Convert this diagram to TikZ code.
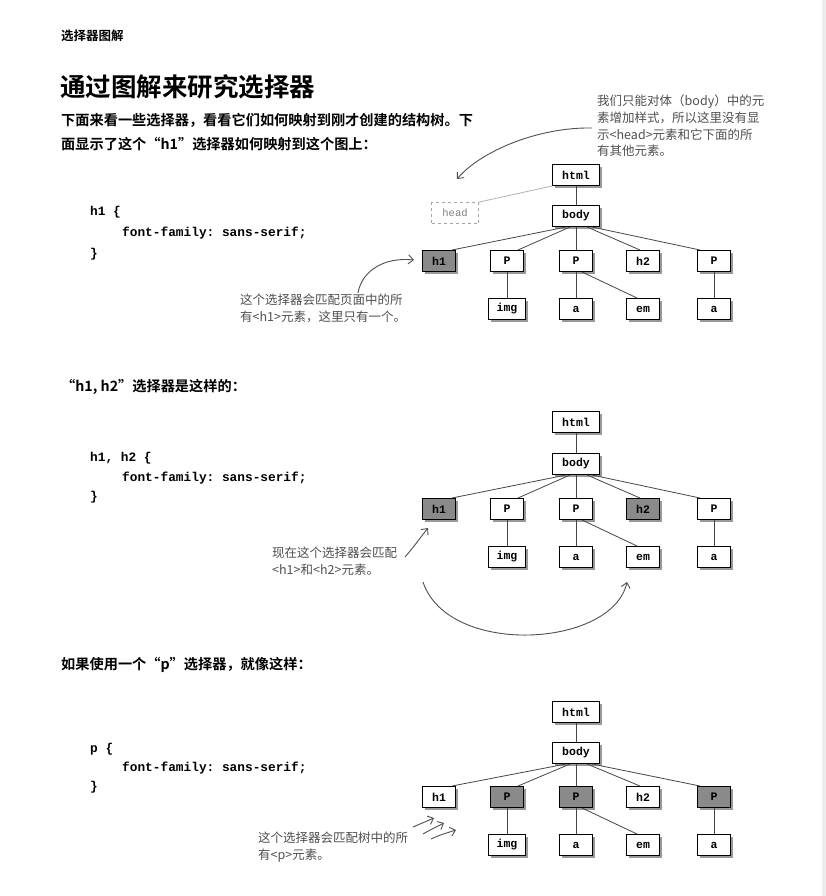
\documentclass[tikz,border=0pt]{standalone}
\usepackage{fontspec}
\setmainfont{Noto Sans CJK SC}[BoldFont={Noto Sans CJK SC Bold}]
\setmonofont{Liberation Mono}
\usetikzlibrary{shadows,arrows.meta}
\definecolor{hl}{RGB}{138,138,138}
\definecolor{pen}{RGB}{80,80,80}
\definecolor{edge}{RGB}{70,70,70}
\tikzset{
  tbox/.style={draw, line width=1pt, fill=white, minimum width=33pt, minimum height=21pt,
    inner sep=0pt, font=\ttfamily\bfseries\fontsize{11.5}{12}\selectfont,
    drop shadow={shadow xshift=2.5pt, shadow yshift=-2.5pt, opacity=0.4, fill=black}},
  wide/.style={minimum width=47pt},
  hot/.style={fill=hl},
  plain/.style={},
  tedge/.style={draw=edge, line width=0.8pt},
  txt/.style={anchor=west, inner sep=0pt},
  para/.style={txt, font=\bfseries\fontsize{14.2}{16}\selectfont},
  code/.style={txt, font=\ttfamily\bfseries\fontsize{12.8}{14}\selectfont},
  note/.style={anchor=north west, inner sep=0pt, align=left, text=pen,
    font=\fontsize{12.5}{16.6}\selectfont},
  harrow/.style={draw=pen, line width=0.9pt, -{Straight Barb[length=5pt,width=9pt]}},
}
\newcommand\drawtree[8]{%
  \node[tbox,wide] (#1html) at (576,#2) {html};
  \node[tbox,wide] (#1body) at (576,#3) {body};
  \node[tbox,#6] (#1h1) at (439,#4) {h1};
  \node[tbox,#7] (#1pa) at (507,#4) {P};
  \node[tbox,#7] (#1pb) at (576,#4) {P};
  \node[tbox,#8] (#1h2) at (643,#4) {h2};
  \node[tbox,#7] (#1pc) at (714,#4) {P};
  \node[tbox,minimum width=37pt] (#1img) at (507,#5) {img};
  \node[tbox] (#1aa) at (576,#5) {a};
  \node[tbox] (#1em) at (643,#5) {em};
  \node[tbox] (#1ab) at (714,#5) {a};
  \draw[tedge] (#1html) -- (#1body);
  \draw[tedge] ([xshift=-10pt]#1body.south) -- ([xshift=13pt]#1h1.north);
  \draw[tedge] ([xshift=-6pt]#1body.south) -- ([xshift=11pt]#1pa.north);
  \draw[tedge] (#1body) -- (#1pb);
  \draw[tedge] ([xshift=11pt]#1body.south) -- ([xshift=-3pt]#1h2.north);
  \draw[tedge] ([xshift=16pt]#1body.south) -- ([xshift=-14pt]#1pc.north);
  \draw[tedge] (#1pa) -- (#1img);
  \draw[tedge] (#1pb) -- (#1aa);
  \draw[tedge] ([xshift=6pt]#1pb.south) -- ([xshift=-6pt]#1em.north);
  \draw[tedge] (#1pc) -- (#1ab);
}
\begin{document}
\begin{tikzpicture}[x=1pt,y=-1pt]
\useasboundingbox (0,0) rectangle (826,896);
\fill[white] (0,0) rectangle (826,896);
\fill[gray!14] (822,0) rectangle (826,896);

% header and intro
\node[txt, font=\bfseries\fontsize{12.5}{14}\selectfont] (hdr) at (61,36) {选择器图解};
\node[txt, font=\bfseries\fontsize{25.5}{28}\selectfont] (title) at (60,87) {通过图解来研究选择器};
\node[para] (p1) at (61,120) {下面来看一些选择器，看看它们如何映射到刚才创建的结构树。下};
\node[para] (p2) at (61,144) {面显示了这个“h1”选择器如何映射到这个图上：};

% code 1
\node[code] (c1a) at (90,212) {h1 \{};
\node[code] (c1b) at (122,233) {font-family: sans-serif;};
\node[code] (c1c) at (90,254) {\}};

% tree 1
\drawtree{A}{175}{216}{261}{309}{hot}{plain}{plain}
\node[draw=gray!70, dashed, line width=0.8pt, minimum width=47pt, minimum height=21pt,
  inner sep=0pt, text=gray, font=\ttfamily\fontsize{10.5}{12}\selectfont] (head) at (455,213) {head};
\draw[gray!60, line width=0.8pt] (Ahtml.south west) -- (head.north east);

\node[note] (n1) at (597,95) {我们只能对体（body）中的元\\素增加样式，所以这里没有显\\示<head>元素和它下面的所\\有其他元素。};
\coordinate (n1s) at (592,128);
\coordinate (n1e) at (457,179);
\draw[harrow] (n1s) .. controls (540,127) and (482,150) .. (n1e);

\node[note] (n2) at (240,294) {这个选择器会匹配页面中的所\\有<h1>元素，这里只有一个。};
\coordinate (n2s) at (358,293);
\coordinate (n2e) at (414,260);
\draw[harrow] (n2s) .. controls (362,270) and (385,257) .. (n2e);

% section 2
\node[para] (p3) at (61,387) {“h1, h2”选择器是这样的：};
\node[code] (c2a) at (90,458) {h1, h2 \{};
\node[code] (c2b) at (122,478) {font-family: sans-serif;};
\node[code] (c2c) at (90,497) {\}};

\drawtree{B}{422}{464}{509}{557}{hot}{plain}{hot}

\node[note] (n3) at (272,547) {现在这个选择器会匹配\\<h1>和<h2>元素。};
\coordinate (n3s) at (405,557);
\coordinate (n3e) at (428,528);
\draw[harrow] (n3s) .. controls (413,548) and (420,538) .. (n3e);
\coordinate (n4s) at (423,582);
\coordinate (n4e) at (627,582);
\draw[harrow] (n4s) .. controls (448,657) and (612,648) .. (n4e);

% section 3
\node[para] (p4) at (61,665) {如果使用一个“p”选择器，就像这样：};
\node[code] (c3a) at (90,749) {p \{};
\node[code] (c3b) at (122,768) {font-family: sans-serif;};
\node[code] (c3c) at (90,787) {\}};

\drawtree{C}{712}{753}{797}{845}{plain}{hot}{plain}

\node[note] (n5) at (258,832) {这个选择器会匹配树中的所\\有<p>元素。};
\coordinate (a1s) at (413,827); \coordinate (a1e) at (434,818);
\coordinate (a2s) at (423,834); \coordinate (a2e) at (444,823);
\coordinate (a3s) at (431,839); \coordinate (a3e) at (456,830);
\draw[harrow] (a1s) -- (a1e);
\draw[harrow] (a2s) .. controls (430,830) .. (a2e);
\draw[harrow] (a3s) .. controls (440,835) .. (a3e);
\end{tikzpicture}
\end{document}
